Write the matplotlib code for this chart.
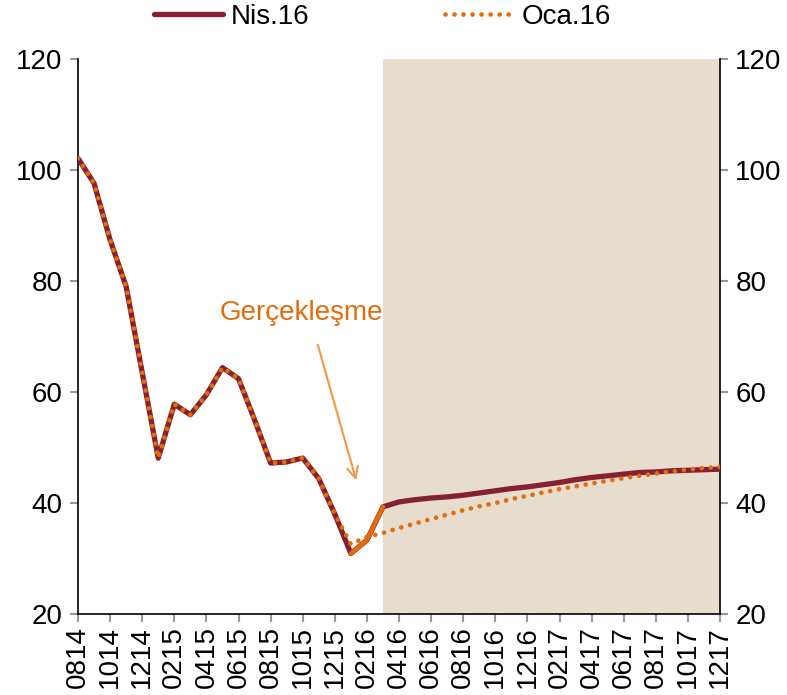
import matplotlib
matplotlib.use("Agg")
import matplotlib.pyplot as plt
import numpy as np

plt.rcParams['font.family'] = ['Liberation Sans', 'DejaVu Sans']

# Monthly periods 0814 .. 1217
month_labels = ["0814", "0914", "1014", "1114", "1214",
                "0115", "0215", "0315", "0415", "0515", "0615", "0715", "0815", "0915", "1015", "1115", "1215",
                "0116", "0216", "0316", "0416", "0516", "0616", "0716", "0816", "0916", "1016", "1116", "1216",
                "0117", "0217", "0317", "0417", "0517", "0617", "0717", "0817", "0917", "1017", "1117", "1217"]

nis16 = [102.1, 97.6, 87.4, 79.0, 63.5, 48.1, 57.8, 55.9, 59.5, 64.4, 62.4, 55.0, 47.2, 47.4, 48.1, 44.4, 38.0,
         30.9, 33.3, 39.3, 40.2, 40.6, 40.9, 41.1, 41.4, 41.8, 42.2, 42.6, 42.9, 43.3, 43.7, 44.2, 44.6, 44.9,
         45.2, 45.5, 45.6, 45.8, 45.9, 46.0, 46.1]

oca16 = [102.1, 97.6, 87.4, 79.0, 63.5, 48.1, 57.8, 55.9, 59.5, 64.4, 62.4, 55.0, 47.2, 47.4, 48.1, 44.4, 38.0,
         32.6, 33.9, 34.6, 35.5, 36.3, 37.1, 37.9, 38.7, 39.4, 40.0, 40.7, 41.3, 41.9, 42.5, 43.0, 43.5, 44.0,
         44.5, 44.9, 45.3, 45.7, 46.0, 46.3, 46.5]

# realised values ("Gerçekleşme") 0116..0316
actual_labels = ["0116", "0216", "0316"]
actual = [30.9, 33.3, 39.3]

forecast_start = "0316"
annotation = "Gerçekleşme"

x = np.arange(len(month_labels))
idx = {m: i for i, m in enumerate(month_labels)}
xa = [idx[m] for m in actual_labels]

dark_red = "#84202F"
orange = "#E46C0A"
shade = "#E6DDCF"

W, H = 787, 695
fig = plt.figure(figsize=(W / 100, H / 100), dpi=100)
ax = fig.add_axes([78/W, 1 - 614/H, (720-78)/W, (614-59)/H])

ax.axvspan(idx[forecast_start], len(month_labels) - 1, color=shade, lw=0, zorder=0)

ax.plot(x, nis16, color=dark_red, lw=3.8, solid_capstyle='round', solid_joinstyle='round',
        label="Nis.16", zorder=3)
ax.plot(x, oca16, color=orange, lw=3.4, linestyle=(0, (0.01, 1.9)), dash_capstyle='round',
        label="Oca.16", zorder=4)
ax.plot(xa, actual, color=orange, lw=3.2, solid_capstyle='round', zorder=5)

ax.set_xlim(0, len(month_labels) - 1)
ax.set_ylim(20, 120)
ax.set_yticks(range(20, 121, 20))
ax.set_xticks(x[::2])
ax.set_xticklabels(month_labels[::2], rotation=90)

ax.spines["top"].set_visible(False)
for s in ["left", "right", "bottom"]:
    ax.spines[s].set_color("black")
    ax.spines[s].set_linewidth(1.2)

ax.tick_params(axis='both', direction='out', color="#999999", width=1.5, length=6,
               labelsize=20, pad=3)
ax.tick_params(axis='y', right=True, labelright=True, pad=5)

fig.text(301 / W, 1 - 313 / H, annotation, color=orange, fontsize=20,
         ha='center', va='center')
ax.annotate("", xy=(357, H - 483), xycoords='figure pixels',
            xytext=(317, H - 342), textcoords='figure pixels',
            arrowprops=dict(arrowstyle="->,head_length=0.8,head_width=0.4", color="#F79646", lw=1.5))

fig.legend(loc='upper center', bbox_to_anchor=(0.486, 1.03), ncol=2, frameon=False,
           fontsize=20, handlelength=2.5, columnspacing=4.9, handletextpad=0.25)

fig.savefig("out.png", dpi=100)
